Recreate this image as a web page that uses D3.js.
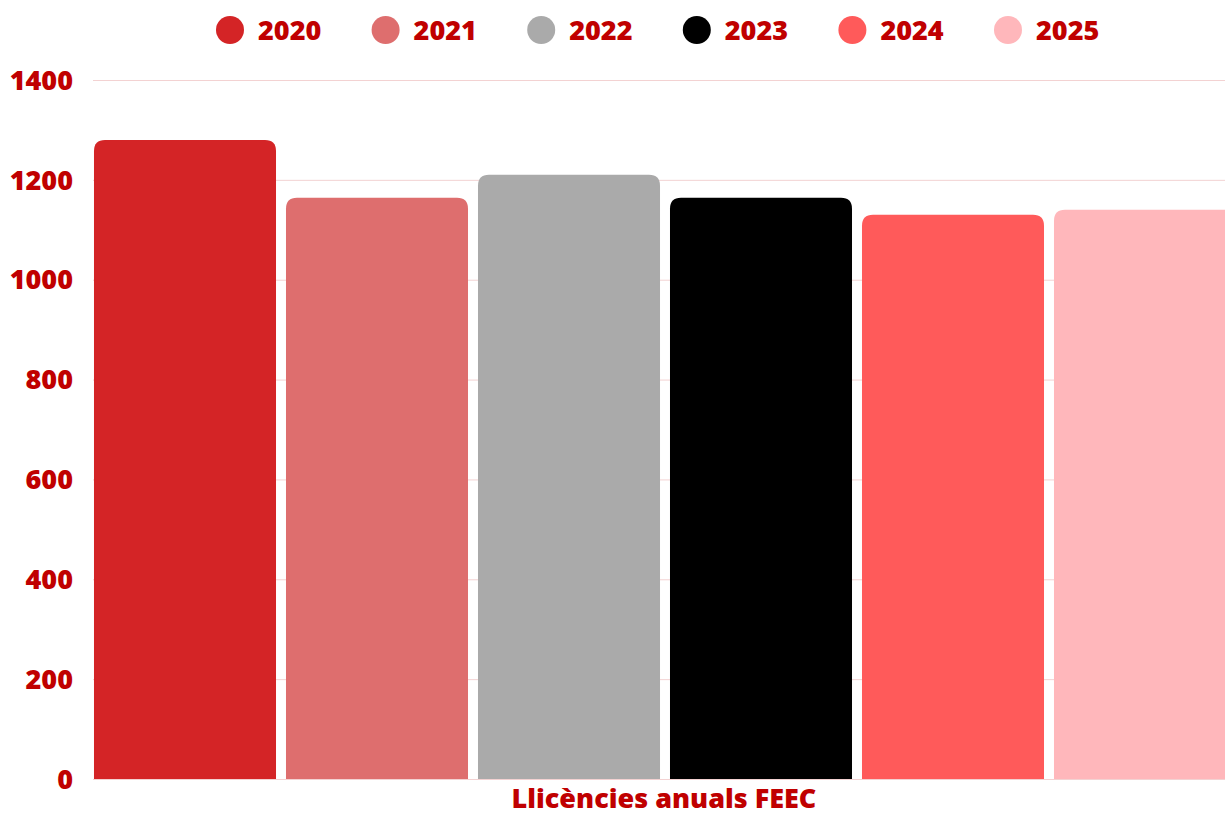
<!DOCTYPE html>
<html>
<head>
<meta charset="utf-8">
<script src="https://cdn.jsdelivr.net/npm/d3@7"></script>
<style>
  body { margin: 0; background: #fff; overflow: hidden; }
  text { font-family: "Open Sans", "Noto Sans", sans-serif; font-weight: 800; fill: #c00000; }
</style>
</head>
<body>
<div class="chartWrap"></div>
<script>
//Data
const years = ["2020", "2021", "2022", "2023", "2024", "2025"];
const licences = [1280, 1164, 1210, 1164, 1130, 1140];
const colours = ["#d42426", "#de6e6e", "#aaaaaa", "#000000", "#ff5a5a", "#ffb7bb"];
const yTicks = [0, 200, 400, 600, 800, 1000, 1200, 1400];
const xTitle = "Llicències anuals FEEC";

const w = 1225, h = 815;
const margin = {top: 80, right: 0, bottom: 36, left: 93};

let svg = d3.select(".chartWrap").append("svg").attr("width", w).attr("height", h);

//Scales
let y = d3.scaleLinear().domain([0, 1400]).range([h - margin.bottom, margin.top]);
let x = d3.scaleBand().domain(years).range([89, 1241]).paddingInner(0.052).paddingOuter(0.026);

//Gridlines
svg.append("g").selectAll("line")
  .data(yTicks)
  .enter()
  .append("line")
    .attr("x1", margin.left).attr("x2", w)
    .attr("y1", d => y(d) + 0.5).attr("y2", d => y(d) + 0.5)
    .attr("stroke", "#f3d2d2").attr("stroke-width", 1);

//Y labels
svg.append("g").selectAll("text")
  .data(yTicks)
  .enter()
  .append("text")
    .attr("x", 73)
    .attr("y", d => y(d))
    .attr("dy", "0.36em")
    .attr("text-anchor", "end")
    .attr("font-size", 27)
    .text(d => d);

//Bars with rounded tops
function barPath(x0, y0, bw, y1, r) {
  return "M" + x0 + "," + y1 +
    "V" + (y0 + r) +
    "Q" + x0 + "," + y0 + " " + (x0 + r) + "," + y0 +
    "H" + (x0 + bw - r) +
    "Q" + (x0 + bw) + "," + y0 + " " + (x0 + bw) + "," + (y0 + r) +
    "V" + y1 + "Z";
}
svg.append("g").selectAll("path")
  .data(years)
  .enter()
  .append("path")
    .attr("d", (d, i) => barPath(x(d), y(licences[i]), x.bandwidth(), y(0), 11))
    .attr("fill", (d, i) => colours[i]);

//X title
svg.append("text")
  .attr("x", 664).attr("y", 808)
  .attr("text-anchor", "middle")
  .attr("font-size", 27)
  .text(xTitle);

//Legend
let legend = svg.append("g").selectAll("g")
  .data(years)
  .enter()
  .append("g")
    .attr("transform", (d, i) => "translate(" + (230 + i * 155.6) + ",30)");
legend.append("circle").attr("r", 14).attr("fill", (d, i) => colours[i]);
legend.append("text")
  .attr("x", 28).attr("dy", "0.36em")
  .attr("font-size", 27)
  .text(d => d);
</script>
</body>
</html>
